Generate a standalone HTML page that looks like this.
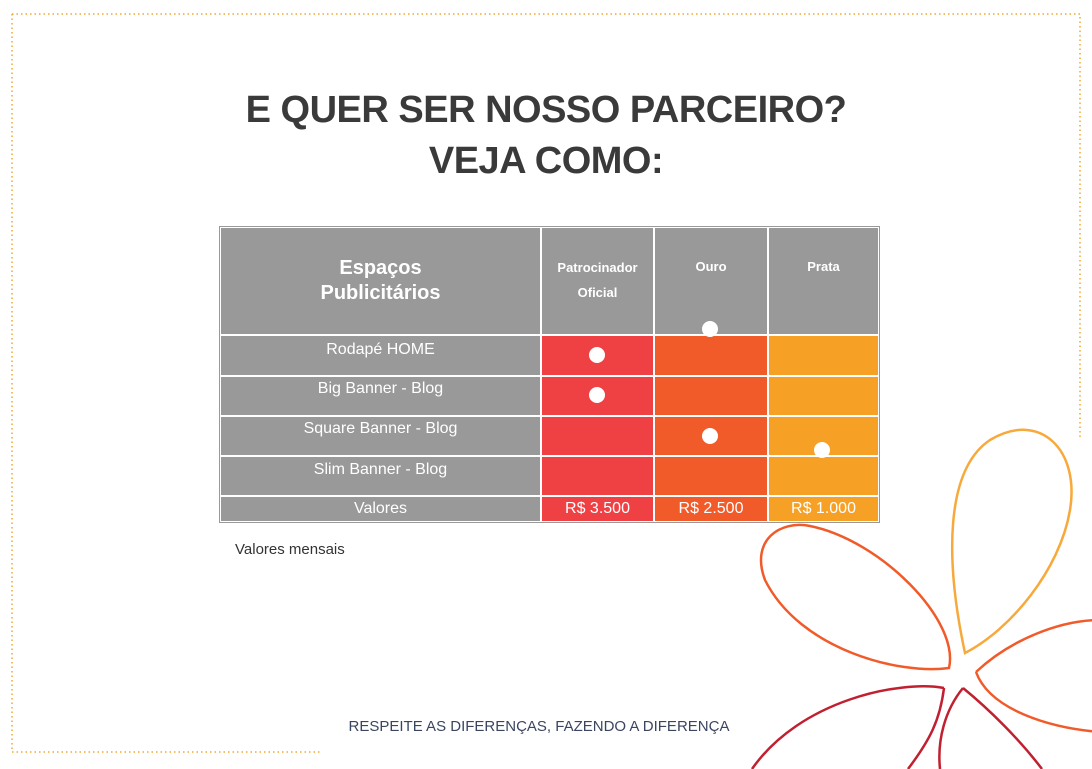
<!DOCTYPE html>
<html><head><style>
body{margin:0;width:1092px;height:769px;background:#fff;position:relative;overflow:hidden;font-family:"Liberation Sans",sans-serif}
.t{position:absolute;left:0;width:1092px;text-align:center;color:#3a3a3a;font-weight:bold;font-size:38px;letter-spacing:-0.5px}
.c{position:absolute;box-sizing:border-box;color:#fff;text-align:center;font-size:16px}
.g{background:#999}.r{background:#ef4044}.o{background:#f15a29}.y{background:#f6a125}
.d{position:absolute;width:16px;height:16px;border-radius:50%;background:#fff}
</style></head><body>
<svg width="1092" height="769" style="position:absolute;left:0;top:0">
<path d="M12 14 H1080 V440 M12 14 V752 H320" fill="none" stroke="#f0a830" stroke-width="1.5" stroke-dasharray="1.5 3"/>
<path d="M965 653 C945 560 945 470 990 440 C1040 410 1080 450 1070 510 C1060 570 1010 630 965 653Z" fill="none" stroke="#f7a93b" stroke-width="2.5"/>
<path d="M949 668 C900 675 800 650 765 580 C750 540 780 520 810 526 C880 540 960 620 949 668Z" fill="none" stroke="#f15a29" stroke-width="2.5"/>
<path d="M976 672 C1010 640 1060 620 1100 620 M1100 732 C1050 728 990 710 976 672" fill="none" stroke="#f15a29" stroke-width="2.5"/>
<path d="M944 688 C900 680 800 700 752 769 M944 688 C940 720 930 740 908 769" fill="none" stroke="#c0202f" stroke-width="2.5"/>
<path d="M963 688 C945 710 937 740 940 769 M963 688 C990 710 1020 740 1042 769" fill="none" stroke="#c0202f" stroke-width="2.5"/>
</svg>
<div class="t" style="top:89px">E QUER SER NOSSO PARCEIRO?</div>
<div class="t" style="top:140px">VEJA COMO:</div>
<div style="position:absolute;left:219px;top:226px;width:661px;height:297px;background:#fff;border:1px solid #999;box-sizing:border-box"></div>
<div class="c g" style="left:221px;top:228px;width:319px;height:106px;font-weight:bold;font-size:20px;padding-top:28px;line-height:25px">Espaços<br>Publicitários</div>
<div class="c g" style="left:542px;top:228px;width:111px;height:106px;font-weight:bold;font-size:13px;padding-top:27px;line-height:25px">Patrocinador<br>Oficial</div>
<div class="c g" style="left:655px;top:228px;width:112px;height:106px;font-weight:bold;font-size:13px;padding-top:31px">Ouro</div>
<div class="c g" style="left:769px;top:228px;width:109px;height:106px;font-weight:bold;font-size:13px;padding-top:31px">Prata</div>
<div class="c g" style="left:221px;top:336px;width:319px;height:39px;padding-top:5px">Rodapé HOME</div>
<div class="c g" style="left:221px;top:377px;width:319px;height:38px;padding-top:3px">Big Banner - Blog</div>
<div class="c g" style="left:221px;top:417px;width:319px;height:38px;padding-top:3px">Square Banner - Blog</div>
<div class="c g" style="left:221px;top:457px;width:319px;height:38px;padding-top:4px">Slim Banner - Blog</div>
<div class="c g" style="left:221px;top:497px;width:319px;height:24px;padding-top:3px">Valores</div>
<div class="c r" style="left:542px;top:336px;width:111px;height:39px"></div>
<div class="c r" style="left:542px;top:377px;width:111px;height:38px"></div>
<div class="c r" style="left:542px;top:417px;width:111px;height:38px"></div>
<div class="c r" style="left:542px;top:457px;width:111px;height:38px"></div>
<div class="c r" style="left:542px;top:497px;width:111px;height:24px;padding-top:3px">R$ 3.500</div>
<div class="c o" style="left:655px;top:336px;width:112px;height:39px"></div>
<div class="c o" style="left:655px;top:377px;width:112px;height:38px"></div>
<div class="c o" style="left:655px;top:417px;width:112px;height:38px"></div>
<div class="c o" style="left:655px;top:457px;width:112px;height:38px"></div>
<div class="c o" style="left:655px;top:497px;width:112px;height:24px;padding-top:3px">R$ 2.500</div>
<div class="c y" style="left:769px;top:336px;width:109px;height:39px"></div>
<div class="c y" style="left:769px;top:377px;width:109px;height:38px"></div>
<div class="c y" style="left:769px;top:417px;width:109px;height:38px"></div>
<div class="c y" style="left:769px;top:457px;width:109px;height:38px"></div>
<div class="c y" style="left:769px;top:497px;width:109px;height:24px;padding-top:3px">R$ 1.000</div>
<div class="d" style="left:589px;top:347px"></div>
<div class="d" style="left:589px;top:387px"></div>
<div class="d" style="left:702px;top:321px"></div>
<div class="d" style="left:702px;top:428px"></div>
<div class="d" style="left:814px;top:442px"></div>
<div style="position:absolute;left:235px;top:541px;font-size:15px;color:#333">Valores mensais</div>
<div style="position:absolute;left:0;width:1078px;top:718px;text-align:center;font-size:15px;color:#3a4560">RESPEITE AS DIFERENÇAS, FAZENDO A DIFERENÇA</div>
</body></html>
